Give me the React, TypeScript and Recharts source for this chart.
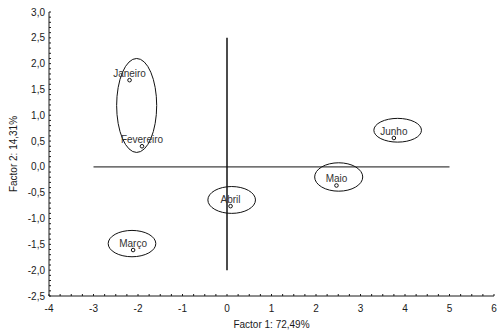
import React from 'react';
import { ScatterChart, Scatter, XAxis, YAxis, ReferenceLine, ReferenceArea } from 'recharts';

const months = ['Janeiro', 'Fevereiro', 'Março', 'Abril', 'Maio', 'Junho'];
const factor1 = [-2.19, -1.91, -2.11, 0.08, 2.46, 3.75];
const factor2 = [1.68, 0.4, -1.61, -0.76, -0.36, 0.56];

// ellipse bounding boxes (data units)
const ellipseX1 = [-2.48, -2.67, -0.43, 1.97, 3.3];
const ellipseX2 = [-1.58, -1.6, 0.64, 3.05, 4.37];
const ellipseY1 = [0.28, -1.74, -0.9, -0.47, 0.48];
const ellipseY2 = [2.1, -1.23, -0.38, 0.08, 0.94];

const xMajorTicks = [-4, -3, -2, -1, 0, 1, 2, 3, 4, 5, 6];
const yMajorTicks = [-2.5, -2.0, -1.5, -1.0, -0.5, 0.0, 0.5, 1.0, 1.5, 2.0, 2.5, 3.0];
const xTickStep = 0.25;
const yTickStep = 0.1;

const xTicks = Array.from({ length: Math.round((6 - -4) / xTickStep) + 1 }, (_, i) => Math.round((-4 + i * xTickStep) * 100) / 100);
const yTicks = Array.from({ length: Math.round((3 - -2.5) / yTickStep) + 1 }, (_, i) => Math.round((-2.5 + i * yTickStep) * 100) / 100);

const data = months.map((m, i) => ({ name: m, x: factor1[i], y: factor2[i] }));

const FONT = '"Liberation Sans", Arial, sans-serif';
const AX = '#1a1a1a';
const TL = 2;

const isXMajor = (v: number) => xMajorTicks.some((t) => Math.abs(t - v) < 1e-6);
const isYMajor = (v: number) => yMajorTicks.some((t) => Math.abs(t - v) < 1e-6);

const BottomTick = (props: any) => {
  const { x, y, payload } = props;
  const v = payload.value as number;
  return (
    <g>
      <line x1={x} y1={y} x2={x} y2={y - TL} stroke={AX} strokeWidth={1} />
      {isXMajor(v) && (
        <text x={x} y={y + 16} textAnchor="middle" fontSize={10} fontFamily={FONT} fill={AX}>
          {String(v)}
        </text>
      )}
    </g>
  );
};

const TopTick = (props: any) => {
  const { x, y } = props;
  return <line x1={x} y1={y} x2={x} y2={y + TL} stroke={AX} strokeWidth={1} />;
};

const LeftTick = (props: any) => {
  const { x, y, payload } = props;
  const v = payload.value as number;
  return (
    <g>
      <line x1={x} y1={y} x2={x + TL} y2={y} stroke={AX} strokeWidth={1} />
      {isYMajor(v) && (
        <text x={x - 4} y={y + 3.5} textAnchor="end" fontSize={10} fontFamily={FONT} fill={AX}>
          {v.toFixed(1).replace('.', ',')}
        </text>
      )}
    </g>
  );
};

const RightTick = (props: any) => {
  const { x, y } = props;
  return <line x1={x} y1={y} x2={x - TL} y2={y} stroke={AX} strokeWidth={1} />;
};

const PointShape = (props: any) => {
  const { cx, cy, payload } = props;
  return (
    <g>
      <circle cx={cx} cy={cy} r={1.8} fill="none" stroke="#111" strokeWidth={1} />
      <text x={cx} y={cy - 3} textAnchor="middle" fontSize={10} fontFamily={FONT} fill="#333">
        {payload.name}
      </text>
    </g>
  );
};

const EllipseShape = (props: any) => {
  const { x, y, width, height } = props;
  return (
    <ellipse
      cx={x + width / 2}
      cy={y + height / 2}
      rx={Math.abs(width) / 2}
      ry={Math.abs(height) / 2}
      fill="none"
      stroke="#111"
      strokeWidth={1}
    />
  );
};

export default function App() {
  return (
    <div style={{ position: 'absolute', left: 0, top: 0, width: 497, height: 333, background: '#fff' }}>
      <ScatterChart width={497} height={333} margin={{ top: 12, right: 3, bottom: 0, left: 0 }} style={{ fontFamily: FONT }}>
        <XAxis
          type="number"
          dataKey="x"
          domain={[-4, 6]}
          ticks={xTicks}
          interval={0}
          allowDataOverflow
          height={37}
          tickSize={0}
          tickMargin={0}
          tickLine={false}
          axisLine={{ stroke: AX, strokeWidth: 1 }}
          tick={<BottomTick />}
          label={{ value: 'Factor 1: 72,49%', position: 'insideBottom', offset: 5, style: { fontSize: 10, fontFamily: FONT, fill: AX } }}
        />
        <XAxis
          xAxisId="top"
          orientation="top"
          type="number"
          domain={[-4, 6]}
          ticks={xTicks}
          interval={0}
          allowDataOverflow
          height={0}
          tickSize={0}
          tickMargin={0}
          tickLine={false}
          axisLine={{ stroke: AX, strokeWidth: 1 }}
          tick={<TopTick />}
        />
        <YAxis
          type="number"
          dataKey="y"
          domain={[-2.5, 3]}
          ticks={yTicks}
          interval={0}
          allowDataOverflow
          width={49}
          tickSize={0}
          tickMargin={0}
          tickLine={false}
          axisLine={{ stroke: AX, strokeWidth: 1 }}
          tick={<LeftTick />}
          label={{ value: 'Factor 2: 14,31%', angle: -90, position: 'insideLeft', offset: 13, style: { fontSize: 10, fontFamily: FONT, fill: AX, textAnchor: 'middle' } }}
        />
        <YAxis
          yAxisId="right"
          orientation="right"
          type="number"
          domain={[-2.5, 3]}
          ticks={yTicks}
          interval={0}
          allowDataOverflow
          width={0}
          tickSize={0}
          tickMargin={0}
          tickLine={false}
          axisLine={{ stroke: AX, strokeWidth: 1 }}
          tick={<RightTick />}
        />
        <ReferenceLine segment={[{ x: -3, y: 0 }, { x: 5, y: 0 }]} stroke="#111" strokeWidth={1} />
        <ReferenceLine segment={[{ x: 0, y: 2.5 }, { x: 0, y: -2 }]} stroke="#111" strokeWidth={1.5} />
        {ellipseX1.map((x1, i) => (
          <ReferenceArea
            key={i}
            x1={x1}
            x2={ellipseX2[i]}
            y1={ellipseY1[i]}
            y2={ellipseY2[i]}
            shape={<EllipseShape />}
          />
        ))}
        <Scatter data={data} isAnimationActive={false} shape={<PointShape />} />
      </ScatterChart>
    </div>
  );
}
